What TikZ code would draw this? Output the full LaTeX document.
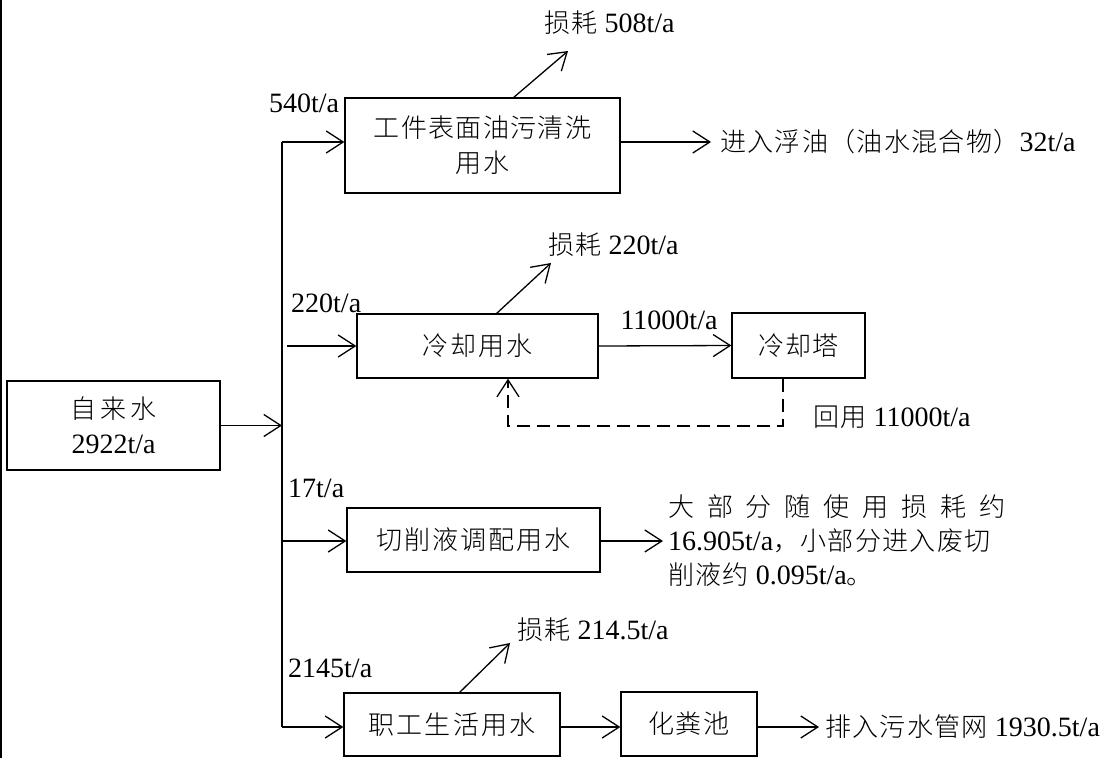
\documentclass[tikz,border=0pt]{standalone}
\usepackage{fontspec}
\setmainfont{Liberation Serif}
\IfFontExistsTF{Noto Sans CJK SC Light}
  {\newfontfamily\cj[Scale=0.93,LetterSpace=5]{Noto Sans CJK SC Light}}
  {\newfontfamily\cj[Scale=0.93,LetterSpace=5]{Noto Sans CJK SC}}
\usetikzlibrary{arrows.meta}
\newcommand\zh[1]{{\cj #1}}
\begin{document}
\begin{tikzpicture}[x=1pt,y=-1pt,
  box/.style={draw, line width=1.3pt, inner sep=0pt, align=center, font=\fontsize{28}{35}\selectfont},
  lbl/.style={inner sep=0pt, anchor=west, font=\fontsize{28}{34}\selectfont},
  arr/.style={line width=1.3pt, -{Straight Barb[length=17pt,width=22pt]}},
  dsh/.style={line width=1.8pt, dash pattern=on 13pt off 7pt}]
\useasboundingbox (0,0) rectangle (1114,758);
% left edge line
\coordinate (eT) at (1,0);
\coordinate (eB) at (1,758);
\draw[line width=1.2pt] (eT) -- (eB);

% boxes
\node[box, minimum width=213pt, minimum height=89pt] (src) at (113.5,425.5) {\zh{\addfontfeature{LetterSpace=14}自来水}\\2922t/a};
\node[box, minimum width=275pt, minimum height=95pt] (b1) at (482.5,145.5) {\zh{工件表面油污清洗}\\\zh{用水}};
\node[box, minimum width=241pt, minimum height=64pt] (b2) at (477.5,346) {\zh{\addfontfeature{LetterSpace=8}冷却用水}};
\node[box, minimum width=133pt, minimum height=65pt] (tower) at (798.5,345.5) {\zh{冷却塔}};
\node[box, minimum width=253pt, minimum height=64pt] (b3) at (473.5,540) {\zh{\addfontfeature{LetterSpace=8}切削液调配用水}};
\node[box, minimum width=216pt, minimum height=63pt] (b4) at (452,724.5) {\zh{\addfontfeature{LetterSpace=8}职工生活用水}};
\node[box, minimum width=136pt, minimum height=64pt] (septic) at (689,724) {\zh{化粪池}};

% trunk
\coordinate (tTop) at (282,142);
\coordinate (tBot) at (282,727);
\draw[line width=1.3pt] (tTop) -- (tBot);
\draw[arr] (src.east) -- (src.east -| tTop);
\draw[arr] (tTop) -- (tTop -| b1.west);
\coordinate (s2) at (287,346);
\draw[arr] (s2) -- (s2 -| b2.west);
\coordinate (s3) at (283,541);
\draw[arr] (s3) -- (s3 -| b3.west);
\draw[arr] (tBot) -- (tBot -| b4.west);

% branch labels
\node[lbl, anchor=center] (l540) at (304,103) {540t/a};
\node[lbl] (l220) at (291,303) {220t/a};
\node[lbl] (l17) at (288,488) {17t/a};
\node[lbl] (l2145) at (288,668) {2145t/a};

% branch 1
\coordinate (a1s) at (513,98);
\coordinate (a1t) at (568,51);
\draw[arr] (a1s) -- (a1t);
\node[lbl] (loss1) at (544,23) {\zh{损耗} 508t/a};
\coordinate (e1) at (711,142);
\draw[arr] (e1 -| b1.east) -- (e1);
\node[lbl] (out1) at (720,142) {\zh{进入浮油（油水混合物）}32t/a};

% branch 2
\coordinate (a2s) at (496,314);
\coordinate (a2t) at (551,263);
\draw[arr] (a2s) -- (a2t);
\node[lbl] (loss2) at (548,245) {\zh{损耗} 220t/a};
\draw[arr] (b2.east) -- (tower.west);
\node[lbl, anchor=center] (l11000) at (669,320) {11000t/a};
\coordinate (d1) at (783,426);
\coordinate (d2) at (508,426);
\draw[dsh, arr] (d1 |- tower.south) -- (d1) -- (d2) -- (d2 |- b2.south);
\node[lbl] (reuse) at (813,417) {\zh{回用} 11000t/a};

% branch 3
\coordinate (e3) at (663,541);
\draw[arr] (b3.east |- e3) -- (e3);
\node[lbl, anchor=west, align=left] (out3) at (668,541) {\makebox[337pt][s]{\zh{大}\hfill\zh{部}\hfill\zh{分}\hfill\zh{随}\hfill\zh{使}\hfill\zh{用}\hfill\zh{损}\hfill\zh{耗}\hfill\zh{约}}\\16.905t/a\zh{，小部分进入废切}\\\zh{削液约} 0.095t/a\zh{。}};

% branch 4
\coordinate (a4s) at (459,693);
\coordinate (a4t) at (510,643);
\draw[arr] (a4s) -- (a4t);
\node[lbl] (loss4) at (517,630) {\zh{损耗} 214.5t/a};
\draw[arr] (b4.east |- tBot) -- (septic.west |- tBot);
\coordinate (e4) at (819,727);
\draw[arr] (septic.east |- e4) -- (e4);
\node[lbl] (out4) at (825,727) {\zh{排入污水管网} 1930.5t/a};
\end{tikzpicture}
\end{document}
